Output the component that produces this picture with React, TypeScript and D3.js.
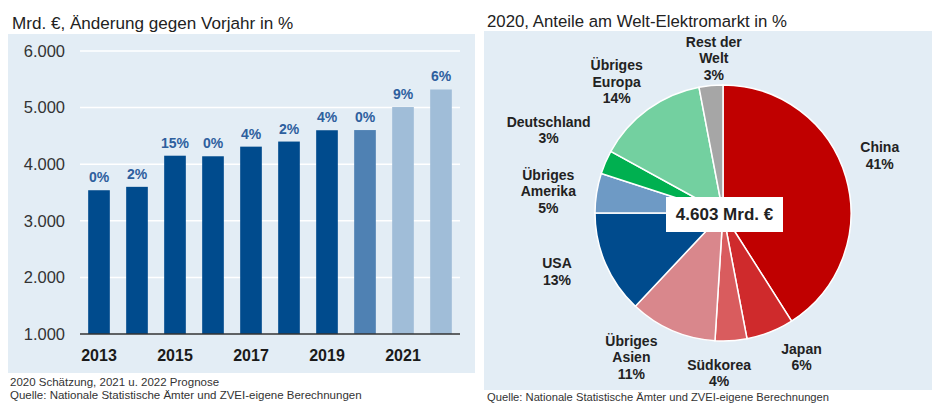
import React from "react";
import * as d3 from "d3";

// ---- Data ----
const years = ["2013", "2014", "2015", "2016", "2017", "2018", "2019", "2020", "2021", "2022"];
const marketValues = [3540, 3600, 4150, 4140, 4310, 4400, 4600, 4603, 5010, 5320];
const changeLabels = ["0%", "2%", "15%", "0%", "4%", "2%", "4%", "0%", "9%", "6%"];
const barKind = ["actual", "actual", "actual", "actual", "actual", "actual", "actual", "estimate", "forecast", "forecast"];
const yTicks = [1000, 2000, 3000, 4000, 5000, 6000];
const xTickYears = ["2013", "2015", "2017", "2019", "2021"];

const regions = ["China", "Japan", "Südkorea", "Übriges Asien", "USA", "Übriges Amerika", "Deutschland", "Übriges Europa", "Rest der Welt"];
const regionLabelLines = [["China"], ["Japan"], ["Südkorea"], ["Übriges", "Asien"], ["USA"], ["Übriges", "Amerika"], ["Deutschland"], ["Übriges", "Europa"], ["Rest der", "Welt"]];
const shares = [41, 6, 4, 11, 13, 5, 3, 14, 3];
const totalLabel = "4.603 Mrd. €";

// ---- Styles ----
const FONT = "'Liberation Sans', Arial, sans-serif";
const PANEL_BG = "#E3EDF5";
const barColors: Record<string, string> = { actual: "#004B8D", estimate: "#4F81B3", forecast: "#A0BDD8" };
const sliceColors = ["#C00000", "#CF2A2C", "#D95C5E", "#D9878C", "#004B8D", "#6E9AC5", "#00B050", "#73D0A0", "#A6A6A6"];
// label placement nudges (angle deg, radius px) relative to slice mid-angle
const labelPlacement: Record<string, [number, number]> = {
  "China": [-4, 167],
  "Japan": [-7, 164],
  "Südkorea": [5, 160],
  "Übriges Asien": [9, 171],
  "USA": [4, 176],
  "Übriges Amerika": [-2, 176],
  "Deutschland": [2, 193],
  "Übriges Europa": [-3, 169],
  "Rest der Welt": [2, 155],
};

export default function App() {
  // Bar chart scales
  const x = d3.scaleBand<string>().domain(years).range([80, 460]).paddingInner(0.43).paddingOuter(0.215);
  const y = d3.scaleLinear().domain([1000, 6000]).range([334, 51]);
  const fmt = (v: number) => d3.format(",")(v).replace(/,/g, ".");

  // Pie
  const cx = 723, cy = 213, R = 128;
  const pie = d3.pie<number>().sort(null).value((d) => d);
  const arcs = pie(shares);
  const arc = d3.arc<d3.PieArcDatum<number>>().innerRadius(0).outerRadius(R);

  return (
    <svg width={932} height={403} style={{ position: "absolute", left: 0, top: 0, fontFamily: FONT }}>
      <rect x={0} y={0} width={932} height={403} fill="#FFFFFF" />
      {/* Left panel */}
      <text x={12} y={29} fontSize={17.1} fill="#222">Mrd. €, Änderung gegen Vorjahr in %</text>
      <rect x={8} y={34} width={467} height={339} fill={PANEL_BG} />
      {yTicks.filter((t) => t > 1000).map((t) => (
        <line key={t} x1={80} x2={460} y1={y(t)} y2={y(t)} stroke="#FFFFFF" strokeWidth={1.5} />
      ))}
      {yTicks.map((t) => (
        <text key={t} x={65} y={y(t)} dy="0.35em" textAnchor="end" fontSize={16.5} fill="#333">{fmt(t)}</text>
      ))}
      {years.map((yr, i) => (
        <rect key={yr} x={x(yr)} y={y(marketValues[i])} width={x.bandwidth()} height={y(1000) - y(marketValues[i])} fill={barColors[barKind[i]]} />
      ))}
      {years.map((yr, i) => (
        <text key={yr} x={(x(yr) as number) + x.bandwidth() / 2} y={y(marketValues[i]) - 8} textAnchor="middle" fontSize={14} fontWeight="bold" fill="#2E5F9E">{changeLabels[i]}</text>
      ))}
      <line x1={80} x2={460} y1={y(1000)} y2={y(1000)} stroke="#333" strokeWidth={1.5} />
      {xTickYears.map((yr) => (
        <text key={yr} x={(x(yr) as number) + x.bandwidth() / 2} y={361} textAnchor="middle" fontSize={16} fontWeight="bold" fill="#1A1A1A">{yr}</text>
      ))}
      <text x={10} y={386} fontSize={11.5} fill="#333">2020 Schätzung, 2021 u. 2022 Prognose</text>
      <text x={10} y={399} fontSize={11.5} fill="#333">Quelle: Nationale Statistische Ämter und ZVEI-eigene Berechnungen</text>

      {/* Right panel */}
      <text x={487} y={27} fontSize={16.8} fill="#222">2020, Anteile am Welt-Elektromarkt in %</text>
      <rect x={484} y={31} width={448} height={359} fill={PANEL_BG} />
      <g transform={`translate(${cx},${cy})`}>
        {arcs.map((a, i) => (
          <path key={regions[i]} d={arc(a) as string} fill={sliceColors[i]} stroke="#FFFFFF" strokeWidth={1.5} />
        ))}
        {arcs.map((a, i) => {
          const [dAng, r] = labelPlacement[regions[i]];
          const mid = (a.startAngle + a.endAngle) / 2 + (dAng * Math.PI) / 180;
          const lx = r * Math.sin(mid);
          const ly = -r * Math.cos(mid);
          const lines = [...regionLabelLines[i], `${shares[i]}%`];
          const lh = 16.5;
          const y0 = ly - ((lines.length - 1) * lh) / 2;
          return (
            <text key={regions[i]} x={lx} textAnchor="middle" fontSize={14} fontWeight="bold" fill="#222">
              {lines.map((l, j) => (
                <tspan key={j} x={lx} y={y0 + j * lh} dy="0.35em">{l}</tspan>
              ))}
            </text>
          );
        })}
        <rect x={-57} y={-16} width={117} height={35} fill="#FFFFFF" />
        <text x={1.5} y={1.5} dy="0.35em" textAnchor="middle" fontSize={17} fontWeight="bold" fill="#222">{totalLabel}</text>
      </g>
      <text x={487} y={401} fontSize={11.2} fill="#333">Quelle: Nationale Statistische Ämter und ZVEI-eigene Berechnungen</text>
    </svg>
  );
}
